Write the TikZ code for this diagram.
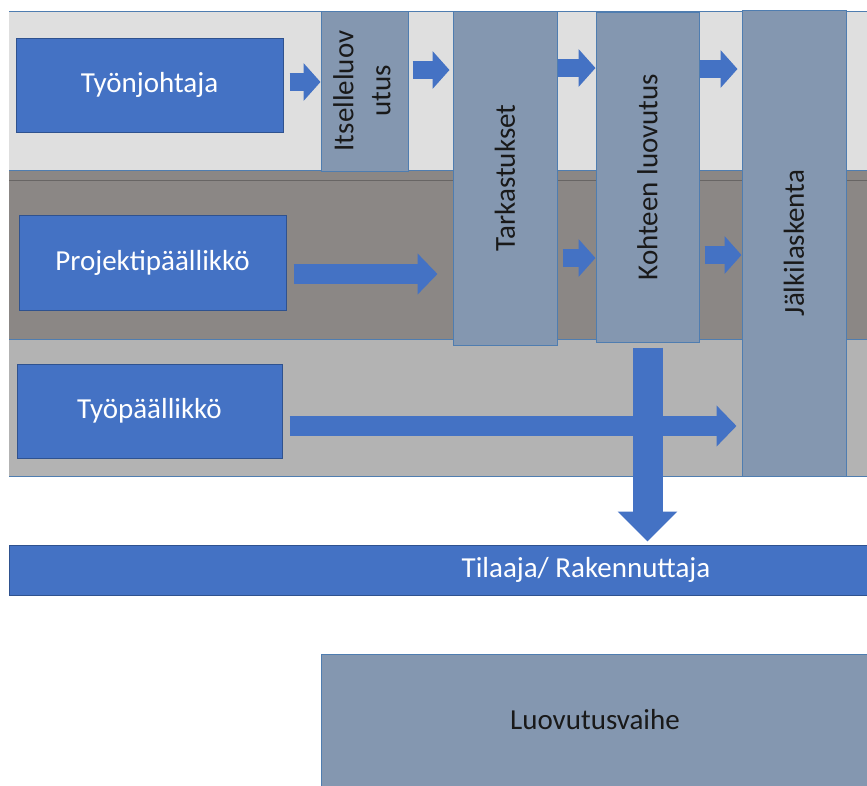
\documentclass[tikz,border=0pt]{standalone}
\usepackage{fontspec}
\setmainfont{Carlito}
\usepackage{graphicx}
\usetikzlibrary{arrows.meta}

\definecolor{lanelight}{HTML}{DFDFDF}
\definecolor{lanedark}{HTML}{8B8785}
\definecolor{lanemid}{HTML}{B3B3B3}
\definecolor{roleblue}{HTML}{4472C4}
\definecolor{roleedge}{HTML}{2F528F}
\definecolor{phasefill}{HTML}{8497B0}
\definecolor{phaseedge}{HTML}{4F7DB0}

\tikzset{
	role/.style={draw=roleedge, fill=roleblue, text=white, line width=1pt, inner sep=0pt, font=\fontsize{29}{35}\selectfont},
	phase/.style={draw=phaseedge, fill=phasefill, text=black!90, line width=1pt, inner sep=0pt, font=\fontsize{29}{37}\selectfont},
	lane/.style={phaseedge, line width=1pt},
	flow/.style={roleblue, line width=18pt, -{Triangle[length=17pt,width=37pt]}},
	flowwide/.style={roleblue, line width=20pt, -{Triangle[length=20pt,width=40pt]}},
	flowdown/.style={roleblue, line width=30pt, -{Triangle[length=30pt,width=58pt]}}
}

\begin{document}
\begin{tikzpicture}[x=1pt,y=-1pt]
	\useasboundingbox (0,0) rectangle (867,785);
	\clip (0,0) rectangle (867,785);
	% swimlanes
	\fill[lanelight] (9,11) rectangle (880,170);
	\fill[lanedark] (9,170) rectangle (880,339);
	\fill[lanemid] (9,339) rectangle (880,476);
	\draw[lane] (9,11) -- (880,11) (9,170) -- (880,170) (9,339) -- (880,339) (9,476) -- (880,476);
	\draw[lanedark!75!black, line width=0.8pt] (9,180) -- (880,180);

	% phases
	\node[phase, minimum width=87, minimum height=160] (itse) at (364.5,91)
		{\rotatebox{90}{\begin{tabular}{@{}c@{}}Itselleluov\\utus\end{tabular}}};
	\node[phase, minimum width=104, minimum height=334] (tark) at (505,178) {\rotatebox{90}{Tarkastukset}};
	\node[phase, minimum width=103, minimum height=330] (koht) at (647.5,177) {\rotatebox{90}{Kohteen luovutus}};
	\node[phase, minimum width=104, minimum height=466] (jalk) at (794,243) {\rotatebox{90}{Jälkilaskenta}};

	% roles
	\node[role, minimum width=267, minimum height=94] (tj) at (149.5,85) {Työnjohtaja};
	\node[role, minimum width=267, minimum height=95] (pp) at (152.5,262.5) {Projektipäällikkö};
	\node[role, minimum width=265, minimum height=94] (tp) at (149.5,411) {Työpäällikkö};
	\node[role, minimum width=1154, minimum height=50] (tilaaja) at (586,570) {Tilaaja/ Rakennuttaja};
	\node[phase, minimum width=548, minimum height=132] (vaihe) at (595,720) {Luovutusvaihe};

	% flow arrows
	\draw[flow, shorten <=6pt] (tj.east |- 0,82) -- (itse.west |- 0,82);
	\draw[flow, shorten <=4pt, shorten >=3pt] (itse.east |- 0,70) -- (tark.west |- 0,70);
	\draw[flow] (tark.east |- 0,68) -- (koht.west |- 0,68);
	\draw[flow, shorten >=4pt] (koht.east |- 0,69) -- (jalk.west |- 0,69);
	\draw[flowwide, shorten <=7pt, shorten >=15pt] (pp.east |- 0,274) -- (tark.west |- 0,274);
	\draw[flow, shorten <=5pt] (tark.east |- 0,258) -- (koht.west |- 0,258);
	\draw[flow, shorten <=5pt] (koht.east |- 0,255) -- (jalk.west |- 0,255);
	\draw[flowwide, shorten <=7pt, shorten >=5pt] (tp.east |- 0,426) -- (jalk.west |- 0,426);
	\draw[flowdown, shorten <=5pt, shorten >=3pt] (koht.south) -- (koht.south |- tilaaja.north);
\end{tikzpicture}
\end{document}
